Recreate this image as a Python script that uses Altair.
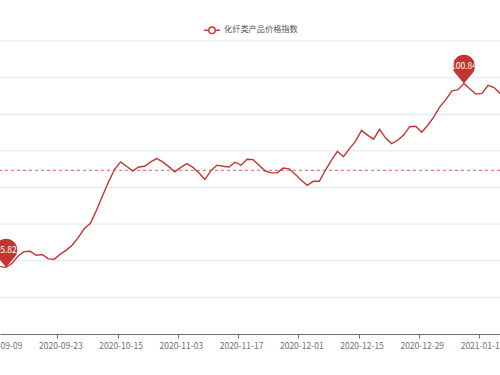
import json
import altair as alt
import pandas as pd

series_name = "化纤类产品价格指数"

dates = [
    "2020-09-09", "2020-09-10", "2020-09-11", "2020-09-14", "2020-09-15", "2020-09-16",
    "2020-09-17", "2020-09-18", "2020-09-21", "2020-09-22", "2020-09-23", "2020-09-24",
    "2020-09-25", "2020-09-28", "2020-09-29", "2020-09-30", "2020-10-09", "2020-10-12",
    "2020-10-13", "2020-10-14", "2020-10-15", "2020-10-16", "2020-10-19", "2020-10-21",
    "2020-10-22", "2020-10-23", "2020-10-26", "2020-10-28", "2020-10-29", "2020-11-02",
    "2020-11-03", "2020-11-04", "2020-11-05", "2020-11-06", "2020-11-09", "2020-11-10",
    "2020-11-11", "2020-11-12", "2020-11-13", "2020-11-16", "2020-11-17", "2020-11-18",
    "2020-11-19", "2020-11-20", "2020-11-23", "2020-11-24", "2020-11-25", "2020-11-26",
    "2020-11-27", "2020-11-30", "2020-12-01", "2020-12-02", "2020-12-03", "2020-12-04",
    "2020-12-07", "2020-12-08", "2020-12-09", "2020-12-10", "2020-12-11", "2020-12-14",
    "2020-12-15", "2020-12-16", "2020-12-17", "2020-12-18", "2020-12-21", "2020-12-22",
    "2020-12-23", "2020-12-24", "2020-12-25", "2020-12-28", "2020-12-29", "2020-12-30",
    "2020-12-31", "2021-01-04", "2021-01-05", "2021-01-06", "2021-01-07", "2021-01-08",
    "2021-01-11", "2021-01-12", "2021-01-13", "2021-01-14", "2021-01-15", "2021-01-18",
]

values = [
    95.84, 95.82, 95.93, 96.13, 96.25, 96.26, 96.15, 96.17, 96.05, 96.04,
    96.18, 96.29, 96.43, 96.64, 96.88, 97.02, 97.38, 97.77, 98.15, 98.49,
    98.70, 98.58, 98.45, 98.56, 98.58, 98.70, 98.79, 98.70, 98.57, 98.43,
    98.55, 98.65, 98.55, 98.40, 98.22, 98.46, 98.61, 98.58, 98.56, 98.69,
    98.61, 98.77, 98.76, 98.61, 98.45, 98.40, 98.40, 98.53, 98.51, 98.36,
    98.20, 98.06, 98.17, 98.17, 98.47, 98.74, 98.99, 98.84, 99.06, 99.26,
    99.56, 99.43, 99.32, 99.59, 99.35, 99.20, 99.29, 99.43, 99.66, 99.67,
    99.51, 99.70, 99.93, 100.20, 100.40, 100.64, 100.67, 100.84, 100.69, 100.55,
    100.57, 100.79, 100.73, 100.57,
]

avg_value = [98.47]
y_ticks = [95, 96, 97, 98, 99, 100, 101, 102]
label_every = 10

RED = "#c23531"
AXIS = "#6E7079"
GRID = "#E0E6F1"
FONT = "Noto Sans CJK SC"

df = pd.DataFrame({"idx": list(range(len(dates))), "date": dates, "value": values})
imin = values.index(min(values))
imax = values.index(max(values))
pins = pd.DataFrame({
    "idx": [imin, imax],
    "value": [values[imin], values[imax]],
    "label": [f"{values[imin]:.2f}", f"{values[imax]:.2f}"],
})
avg_df = pd.DataFrame({"avg": avg_value})
grid_df = pd.DataFrame({"g": y_ticks})
legend_df = pd.DataFrame({"name": [series_name]})

label_expr = json.dumps(dates) + "[datum.value]"

y_scale = alt.Scale(domain=[94, 102], nice=False, zero=False)

x_enc = alt.X(
    "idx:Q",
    scale=alt.Scale(domain=[-0.012, 82.99], nice=False, zero=False),
    axis=alt.Axis(
        values=list(range(0, len(dates), label_every)),
        labelExpr=label_expr,
        title=None,
        grid=False,
        tickOffset=-3,
        labelOffset=3,
        tickSize=4,
        labelPadding=3,
        labelFlush=False,
        labelOverlap=False,
        domainColor=AXIS,
        tickColor=AXIS,
        labelColor=AXIS,
        labelFontSize=8.5,
        labelFont=FONT,
        domainWidth=1,
    ),
)
y_enc = alt.Y("value:Q", scale=y_scale, axis=None)

grid = alt.Chart(grid_df).mark_rule(color=GRID, strokeWidth=1).encode(
    y=alt.Y("g:Q", scale=y_scale, axis=None)
)

line = alt.Chart(df).mark_line(color=RED, strokeWidth=1.4, clip=True).encode(x=x_enc, y=y_enc)

avg = alt.Chart(avg_df).mark_rule(color=RED, strokeWidth=0.9, strokeDash=[3, 3], opacity=0.85).encode(
    y=alt.Y("avg:Q")
)

pin_path = "M0,0 L-0.75,-0.9 A1,1 0 1,1 0.75,-0.9 Z"
pin_marks = alt.Chart(pins).mark_point(
    shape=pin_path, size=500, filled=True, color=RED, opacity=1, strokeWidth=0
).encode(x=alt.X("idx:Q"), y=alt.Y("value:Q"))
pin_text = alt.Chart(pins).mark_text(
    color="white", fontSize=8.5, font=FONT, dy=-17, baseline="middle", align="center"
).encode(x=alt.X("idx:Q"), y=alt.Y("value:Q"), text="label:N")

leg_line = alt.Chart(legend_df).mark_rule(color=RED, strokeWidth=1.4).encode(
    x=alt.value(204), x2=alt.value(220), y=alt.value(-10.7)
)
leg_dot = alt.Chart(legend_df).mark_point(
    shape="circle", size=42, filled=True, fill="white", stroke=RED, strokeWidth=1.4, opacity=1
).encode(x=alt.value(212), y=alt.value(-10.7))
leg_text = alt.Chart(legend_df).mark_text(
    align="left", baseline="middle", fontSize=8.2, font=FONT, color="#555555"
).encode(x=alt.value(224), y=alt.value(-10.7), text="name:N")

chart = alt.layer(grid, line, avg, pin_marks, pin_text, leg_line, leg_dot, leg_text).properties(
    width=500,
    height=293,
    autosize=alt.AutoSizeParams(type="none"),
    padding={"left": 0, "top": 41, "right": 0, "bottom": 41},
    background="white",
).configure_view(stroke=None)

chart.save("out.html", embed_options={"renderer": "svg", "actions": False})
